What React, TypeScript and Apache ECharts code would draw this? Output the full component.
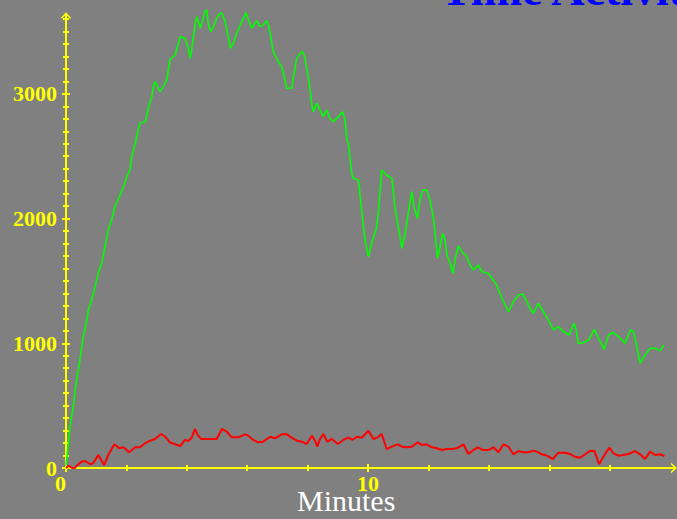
import React, { useEffect, useRef } from "react";
import * as echarts from "echarts";

// [minutes, counts]
const greenSeries: [number, number][] = [
  [0, 20], [0.08, 198], [0.13, 331], [0.24, 492], [0.35, 706], [0.46, 866], [0.57, 1053], [0.69, 1187], [0.74, 1267], [0.85, 1347],
  [0.96, 1454], [1.07, 1561], [1.18, 1642], [1.29, 1775], [1.4, 1909], [1.51, 1989], [1.62, 2095], [1.79, 2189], [1.9, 2256], [2.01, 2336],
  [2.12, 2390], [2.18, 2496], [2.29, 2604], [2.39, 2710], [2.45, 2764], [2.62, 2777], [2.67, 2817], [2.73, 2897], [2.84, 2977], [2.89, 3058],
  [2.95, 3098], [3.11, 3018], [3.22, 3058], [3.33, 3111], [3.39, 3192], [3.44, 3272], [3.61, 3312], [3.72, 3406], [3.78, 3459], [3.94, 3446],
  [4.05, 3366], [4.11, 3285], [4.16, 3352], [4.22, 3459], [4.27, 3552], [4.33, 3619], [4.38, 3579], [4.44, 3526], [4.53, 3593], [4.6, 3659],
  [4.66, 3673], [4.71, 3566], [4.79, 3499], [4.88, 3539], [4.99, 3606], [5.1, 3646], [5.16, 3646], [5.27, 3579], [5.37, 3459], [5.45, 3366],
  [5.54, 3406], [5.65, 3486], [5.82, 3579], [5.96, 3651], [6.04, 3593], [6.15, 3526], [6.26, 3566], [6.32, 3587], [6.42, 3539], [6.53, 3552],
  [6.65, 3587], [6.7, 3552], [6.76, 3486], [6.86, 3338], [7.03, 3258], [7.14, 3218], [7.2, 3165], [7.31, 3045], [7.47, 3045], [7.53, 3138],
  [7.64, 3285], [7.75, 3325], [7.84, 3338], [7.91, 3285], [8.02, 3138], [8.08, 3031], [8.14, 2911], [8.19, 2857], [8.3, 2925], [8.41, 2871],
  [8.52, 2817], [8.63, 2871], [8.74, 2804], [8.85, 2777], [9.02, 2817], [9.15, 2857], [9.24, 2791], [9.3, 2630], [9.35, 2604], [9.46, 2363],
  [9.51, 2323], [9.68, 2310], [9.79, 2069], [9.9, 1828], [10.01, 1694], [10.12, 1802], [10.29, 1935], [10.36, 2095], [10.45, 2390], [10.6, 2350],
  [10.79, 2323], [10.89, 2095], [11.0, 1935], [11.12, 1762], [11.23, 1882], [11.33, 2042], [11.45, 2216], [11.52, 2095], [11.63, 2002], [11.72, 2149],
  [11.81, 2229], [11.94, 2229], [12.05, 2149], [12.16, 2015], [12.22, 1882], [12.3, 1682], [12.38, 1775], [12.47, 1882], [12.55, 1828], [12.61, 1708],
  [12.72, 1642], [12.81, 1561], [12.88, 1668], [12.99, 1783], [13.1, 1735], [13.27, 1694], [13.38, 1628], [13.49, 1588], [13.65, 1628], [13.77, 1574],
  [13.98, 1561], [14.1, 1521], [14.26, 1467], [14.43, 1361], [14.65, 1253], [14.81, 1334], [14.98, 1387], [15.12, 1395], [15.26, 1334], [15.36, 1281],
  [15.47, 1241], [15.64, 1321], [15.81, 1253], [15.97, 1187], [16.14, 1107], [16.3, 1133], [16.47, 1093], [16.67, 1067], [16.75, 1120], [16.82, 1160],
  [16.89, 1107], [16.96, 1000], [17.08, 1000], [17.3, 1026], [17.49, 1112], [17.63, 1040], [17.82, 952], [17.96, 1067], [18.12, 1088], [18.29, 1053],
  [18.51, 1000], [18.68, 1107], [18.79, 1093], [18.9, 973], [19.01, 840], [19.17, 906], [19.34, 960], [19.5, 960], [19.67, 941], [19.8, 986],
];

const redSeries: [number, number][] = [
  [0, 0], [0.08, 18], [0.19, 2], [0.3, 0], [0.35, 18], [0.52, 51], [0.63, 56], [0.8, 30], [0.9, 38], [1.07, 104],
  [1.26, 24], [1.4, 104], [1.6, 190], [1.76, 158], [1.9, 166], [2.09, 126], [2.29, 166], [2.45, 166], [2.62, 198], [2.78, 219],
  [2.95, 233], [3.15, 273], [3.28, 251], [3.44, 206], [3.61, 190], [3.78, 176], [3.94, 225], [4.05, 217], [4.16, 243], [4.27, 313],
  [4.36, 265], [4.47, 233], [4.66, 233], [4.83, 233], [4.99, 233], [5.16, 313], [5.32, 291], [5.49, 246], [5.71, 246], [5.93, 270],
  [6.04, 259], [6.2, 225], [6.37, 206], [6.53, 211], [6.76, 251], [6.92, 238], [7.14, 270], [7.31, 270], [7.47, 243], [7.64, 219],
  [7.81, 211], [7.97, 192], [8.14, 259], [8.25, 217], [8.32, 171], [8.41, 233], [8.52, 273], [8.65, 211], [8.8, 233], [9.0, 192],
  [9.18, 225], [9.35, 243], [9.48, 225], [9.63, 251], [9.79, 243], [10.01, 299], [10.18, 233], [10.32, 246], [10.45, 273], [10.62, 152],
  [10.79, 171], [10.98, 190], [11.12, 171], [11.28, 166], [11.45, 171], [11.65, 206], [11.78, 184], [11.94, 190], [12.11, 166], [12.28, 158],
  [12.44, 144], [12.61, 152], [12.77, 152], [12.94, 158], [13.16, 190], [13.32, 112], [13.49, 144], [13.63, 166], [13.82, 144], [13.98, 144],
  [14.15, 166], [14.32, 126], [14.48, 190], [14.65, 171], [14.81, 110], [14.98, 136], [15.14, 126], [15.31, 126], [15.47, 139], [15.64, 126],
  [15.75, 110], [15.92, 99], [16.12, 72], [16.3, 123], [16.52, 123], [16.69, 112], [16.85, 91], [17.02, 83], [17.19, 110], [17.35, 136],
  [17.49, 139], [17.65, 30], [17.79, 91], [17.99, 163], [18.12, 118], [18.29, 99], [18.45, 104], [18.62, 112], [18.84, 136], [19.01, 110],
  [19.17, 72], [19.34, 131], [19.5, 104], [19.67, 110], [19.81, 96],
];

const yTickLabels = [0, 1000, 2000, 3000];
const xTickLabels = [0, 10];
const titleText = "Time Activity";
const xAxisTitle = "Minutes";

const Y_MAX = 3630;
const X_MAX = 20.13;
const YELLOW = "#ffff00";
const ARROW = "path://M0,6 L5.5,0 L11,6 L9,6 L5.5,2.3 L2,6 Z";

export default function App() {
  const ref = useRef<HTMLDivElement>(null);
  useEffect(() => {
    if (!ref.current) return;
    const chart = echarts.init(ref.current, undefined, { renderer: "svg" });
    const tickStyle = { color: YELLOW, width: 2 };
    const labelFont = {
      color: YELLOW,
      fontFamily: "Liberation Serif",
      fontWeight: "bold" as const,
      fontSize: 22,
    };
    chart.setOption({
      animation: false,
      backgroundColor: "#808080",
      grid: { left: 66, right: 3, top: 15.3, bottom: 51, containLabel: false },
      xAxis: [
        {
          type: "value",
          position: "bottom",
          offset: 1,
          min: 0,
          max: X_MAX,
          interval: 10,
          axisLine: {
            show: true,
            lineStyle: { color: YELLOW, width: 2 },
            symbol: ["none", ARROW],
            symbolSize: [11, 6],
          },
          axisTick: { show: true, length: 4, lineStyle: tickStyle, customValues: xTickLabels },
          minorTick: { show: true, splitNumber: 5, length: 3, lineStyle: tickStyle },
          splitLine: { show: false },
          axisLabel: {
            ...labelFont,
            margin: 3,
            customValues: xTickLabels,
            alignMinLabel: "right",
            formatter: (v: number) => String(v),
          },
        },
        {
          type: "value",
          position: "bottom",
          offset: 1,
          min: 0,
          max: X_MAX,
          interval: 10,
          axisLine: { show: false },
          axisTick: { show: true, inside: true, length: 4, lineStyle: tickStyle, customValues: xTickLabels },
          minorTick: { show: true, splitNumber: 5, length: 3, lineStyle: tickStyle },
          splitLine: { show: false },
          axisLabel: { show: false },
        },
      ],
      yAxis: [
        {
          type: "value",
          position: "left",
          min: 0,
          max: Y_MAX,
          interval: 1000,
          axisLine: {
            show: true,
            lineStyle: { color: YELLOW, width: 2 },
            symbol: ["none", ARROW],
            symbolSize: [11, 6],
          },
          axisTick: { show: true, length: 4, lineStyle: tickStyle, customValues: yTickLabels },
          minorTick: { show: true, splitNumber: 10, length: 3, lineStyle: tickStyle },
          splitLine: { show: false },
          axisLabel: {
            ...labelFont,
            margin: 9,
            customValues: yTickLabels,
            formatter: (v: number) => String(v),
          },
        },
        {
          type: "value",
          position: "left",
          min: 0,
          max: Y_MAX,
          interval: 1000,
          axisLine: { show: false },
          axisTick: { show: true, inside: true, length: 4, lineStyle: tickStyle, customValues: yTickLabels },
          minorTick: { show: true, splitNumber: 10, length: 3, lineStyle: tickStyle },
          splitLine: { show: false },
          axisLabel: { show: false },
        },
      ],
      graphic: [
        {
          type: "text",
          left: 441,
          top: -34,
          style: {
            text: titleText,
            fill: "#0000ff",
            font: "bold 46px 'Liberation Serif'",
          },
        },
        {
          type: "text",
          left: 297,
          top: 485,
          style: {
            text: xAxisTitle,
            fill: "#ffffff",
            font: "30px 'Liberation Serif'",
          },
        },
      ],
      series: [
        {
          type: "line",
          data: redSeries,
          xAxisIndex: 0,
          yAxisIndex: 0,
          symbol: "none",
          clip: false,
          lineStyle: { color: "#ff0000", width: 2 },
          z: 2,
        },
        {
          type: "line",
          data: greenSeries,
          xAxisIndex: 0,
          yAxisIndex: 0,
          symbol: "none",
          clip: false,
          lineStyle: { color: "#00ff00", width: 1.6 },
          z: 3,
        },
      ],
    });
    return () => chart.dispose();
  }, []);
  return (
    <div
      ref={ref}
      style={{ position: "fixed", left: 0, top: 0, width: 677, height: 519 }}
    />
  );
}
